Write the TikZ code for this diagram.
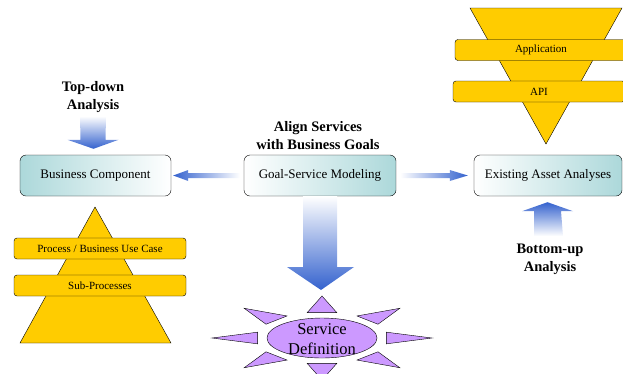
\documentclass[tikz,border=0pt]{standalone}
\usepackage{fontspec}
\setmainfont{Liberation Serif}
\usetikzlibrary{calc}

\definecolor{boxteal}{RGB}{172,216,218}
\definecolor{arrowblue}{RGB}{52,98,206}
\definecolor{layeryellow}{RGB}{255,204,0}
\definecolor{starviolet}{RGB}{204,153,255}

\tikzset{
	box/.style = {draw, rounded corners = 6pt, minimum height = 41pt, inner sep = 0pt,
		font = \fontsize{13}{15}\selectfont},
	layer/.style = {draw, fill = layeryellow, rounded corners = 3pt, minimum width = 172pt,
		minimum height = 21pt, inner sep = 0pt, font = \fontsize{11}{13}\selectfont},
	heading/.style = {align = center, font = \fontsize{14.5}{18}\selectfont\bfseries},
	spike/.style = {draw, fill = starviolet, line join = miter}
}

\begin{document}
\begin{tikzpicture}[x = 1pt, y = -1pt]
		\useasboundingbox (0,0) rectangle (623,373);
		
		% pyramids
		\draw[fill = layeryellow] (95,207) -- (171,343) -- (20,343) -- cycle;
		\draw[fill = layeryellow] (470,8) -- (622,8) -- (546,144) -- cycle;
		
		\node[layer] (usecase) at (100,248.5) {Process / Business Use Case};
		\node[layer] (subproc) at (100,285.5) {Sub-Processes};
		\node[layer] (app) at (541,50) {Application};
		\node[layer] (api) at (539,91.5) {API};
		
		% the three boxes
		\node[box, minimum width = 151pt, left color = boxteal, right color = white] (bizcomp) at (95.5,175.5) {Business Component};
		\node[box, minimum width = 152pt, left color = white, right color = boxteal] (goalsvc) at (320,175.5) {Goal-Service Modeling};
		\node[box, minimum width = 148pt, left color = white, right color = boxteal] (asset) at (548,175.5) {Existing Asset Analyses};
		
		\node[heading] (topdown) at (93,97) {Top-down\\Analysis};
		\node[heading] (align) at (318,135.5) {Align Services\\with Business Goals};
		\node[heading] (bottomup) at (550,259) {Bottom-up\\Analysis};
		
		% service definition star
		\coordinate (svc) at (322,338);
		\foreach \a in {0,45,...,315}
			\draw[spike] ($(svc)+({110*cos(\a)},{42*sin(\a)})$) -- ($(svc)+({66*cos(\a+13)},{26*sin(\a+13)})$) -- ($(svc)+({66*cos(\a-13)},{26*sin(\a-13)})$) -- cycle;
		\draw[spike] (svc) ellipse [x radius = 55, y radius = 20];
		\node[align = center, font = \fontsize{16.5}{20}\selectfont] (svcdef) at ($(svc)+(0,1)$) {Service\\Definition};
		
		% block arrows
		\shade[left color = arrowblue, right color = white]
			($(goalsvc.west)+(-4,-2.5)$) -- ($(bizcomp.east)+(17,-2.5)$) -- ($(bizcomp.east)+(17,-5.5)$) -- ($(bizcomp.east)+(2,0)$)
			-- ($(bizcomp.east)+(17,5.5)$) -- ($(bizcomp.east)+(17,2.5)$) -- ($(goalsvc.west)+(-4,2.5)$) -- cycle;
		\shade[left color = white, right color = arrowblue]
			($(goalsvc.east)+(4,-2.5)$) -- ($(asset.west)+(-24,-2.5)$) -- ($(asset.west)+(-24,-5.5)$) -- ($(asset.west)+(-6,0)$)
			-- ($(asset.west)+(-24,5.5)$) -- ($(asset.west)+(-24,2.5)$) -- ($(goalsvc.east)+(4,2.5)$) -- cycle;
		\shade[top color = white, bottom color = arrowblue]
			($(topdown.south)+(-13,0)$) -- ($(bizcomp.north)+(-15,-15)$) -- ($(bizcomp.north)+(-28,-15)$) -- ($(bizcomp.north)+(-2,-6)$)
			-- ($(bizcomp.north)+(23,-15)$) -- ($(bizcomp.north)+(10,-15)$) -- ($(topdown.south)+(13,0)$) -- cycle;
		\shade[top color = white, bottom color = arrowblue]
			($(goalsvc.south)+(-17,0)$) -- ($(svc)+(-19,-71)$) -- ($(svc)+(-35,-71)$) -- ($(svc)+(-1,-48)$)
			-- ($(svc)+(32,-71)$) -- ($(svc)+(15,-71)$) -- ($(goalsvc.south)+(17,0)$) -- cycle;
		\shade[top color = arrowblue, bottom color = white]
			($(bottomup.north)+(-16,-4)$) -- ($(asset.south)+(-14,15)$) -- ($(asset.south)+(-26,15)$) -- ($(asset.south)+(-0.5,6)$)
			-- ($(asset.south)+(25,15)$) -- ($(asset.south)+(13,15)$) -- ($(bottomup.north)+(13,-4)$) -- cycle;
	\end{tikzpicture}
\end{document}
